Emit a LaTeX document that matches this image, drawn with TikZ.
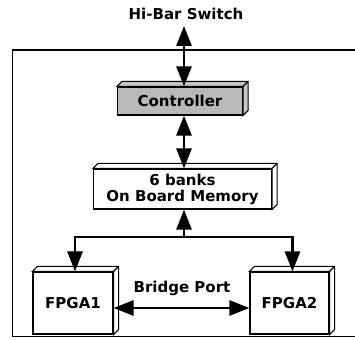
\documentclass[tikz,border=0pt]{standalone}
\usepackage{fontspec}
\setmainfont{DejaVu Sans}
\usetikzlibrary{arrows.meta,calc}
\tikzset{
  lbl/.style={font=\bfseries\fontsize{15}{17}\selectfont, inner sep=0pt},
  blk/.style={draw, line width=1.2pt, fill=white, font=\bfseries\fontsize{15}{18}\selectfont, align=center, inner sep=0pt},
  ctl/.style={blk, fill=gray!55},
  bus/.style={line width=2.8pt, {Triangle[width=15pt,length=20pt]}-{Triangle[width=15pt,length=20pt]}},
  busone/.style={line width=2.8pt, {Triangle[width=15pt,length=20pt]}-},
  frame/.style={line width=0.9pt},
  topframe/.style={line width=2.4pt}
}
\newcommand\depthbox[2]{%
  \draw[line width=1.1pt, fill=#2] (#1.north west) -- ++(5pt,5pt) -- ($(#1.north east)+(5pt,5pt)$)
     -- ($(#1.south east)+(5pt,5pt)$) -- (#1.south east) -- (#1.north east) -- cycle;
  \draw[line width=1.1pt] (#1.north east) -- ++(5pt,5pt);}
\begin{document}
\begin{tikzpicture}[x=1pt,y=-1pt]
\useasboundingbox (0,0) rectangle (355,339);
% frame
\coordinate (ftl) at (12,50);
\coordinate (ftr) at (355,50);
\coordinate (fbl) at (12,336);
\coordinate (fbr) at (355,336);
\draw[topframe] (ftl) -- (ftr);
\draw[frame] (ftl) -- (fbl) -- (fbr);
% title
\node[lbl] (hibar) at (186,14) {Hi-Bar Switch};
% blocks
\node[ctl, minimum width=125pt, minimum height=28pt] (ctl) at (180,101) {Controller};
\depthbox{ctl}{gray!45}
\node[blk, minimum width=178pt, minimum height=40pt] (mem) at (182.5,189) {6 banks\\[-2pt]On Board Memory};
\depthbox{mem}{white}
\node[blk, minimum width=80pt, minimum height=62pt] (f1) at (73,303) {FPGA1};
\depthbox{f1}{white}
\node[blk, minimum width=79pt, minimum height=62pt] (f2) at (289.5,303) {FPGA2};
\depthbox{f2}{white}
% connectors
\coordinate (hbtop) at (184,26);
\draw[bus] (hbtop) -- (hbtop |- ctl.north);
\draw[bus] ([xshift=4pt]ctl.south) -- ([xshift=4pt]ctl.south |- mem.north);
\coordinate (junc) at (184,237);
\draw[busone] (junc |- mem.south) -- (junc);
\draw[bus] ([xshift=2pt]f1.north) |- (junc) -| ([xshift=3pt]f2.north);
\draw[bus] ([yshift=-5pt]f1.east) -- ([yshift=-5pt]f1.east -| f2.west);
\node[lbl] (bp) at (182,288) {Bridge Port};
\end{tikzpicture}
\end{document}
